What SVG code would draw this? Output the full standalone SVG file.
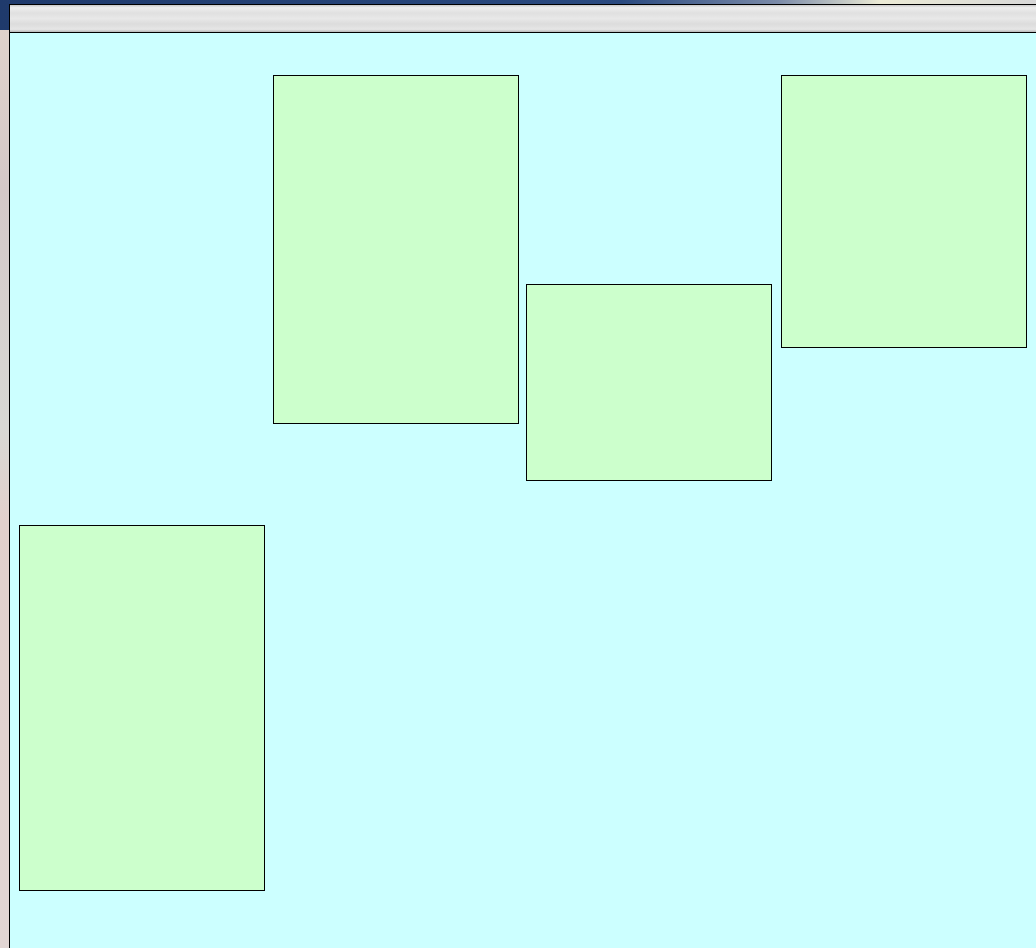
<svg xmlns="http://www.w3.org/2000/svg" width="1036" height="948" viewBox="0 0 1036 948">
<defs>
<linearGradient id="topbg" x1="0" y1="0" x2="1" y2="0">
<stop offset="0" stop-color="#1f3a6c"/>
<stop offset="0.6" stop-color="#2a4a80"/>
<stop offset="0.75" stop-color="#7a8aa8"/>
<stop offset="0.85" stop-color="#ecebd6"/>
<stop offset="1" stop-color="#d8d8d8"/>
</linearGradient>
<linearGradient id="leftbg" x1="0" y1="0" x2="0" y2="1">
<stop offset="0" stop-color="#e2d4cc"/>
<stop offset="0.2" stop-color="#d4c8c8"/>
<stop offset="0.45" stop-color="#d8d8d4"/>
<stop offset="0.55" stop-color="#e2d0cc"/>
<stop offset="1" stop-color="#e2d6d4"/>
</linearGradient>
<linearGradient id="bar" x1="0" y1="0" x2="0" y2="1">
<stop offset="0" stop-color="#c8c8c8"/>
<stop offset="0.1" stop-color="#eeeeee"/>
<stop offset="0.3" stop-color="#e0e0e0"/>
<stop offset="0.5" stop-color="#e8e8e8"/>
<stop offset="0.7" stop-color="#dcdcdc"/>
<stop offset="0.9" stop-color="#e6e6e6"/>
<stop offset="1" stop-color="#b8b8b8"/>
</linearGradient>
</defs>
<style>
.box{fill:#ccffcc;stroke:#000;stroke-width:1}
</style>
<rect x="0" y="0" width="1036" height="948" fill="url(#leftbg)"/>
<rect x="0" y="0" width="1036" height="30" fill="url(#topbg)"/>
<rect x="9.5" y="4.5" width="1030" height="950" fill="#ccffff" stroke="#000" stroke-width="1"/>
<rect x="10" y="5" width="1026" height="27" fill="url(#bar)"/>
<line x1="9" y1="32.5" x2="1036" y2="32.5" stroke="#000" stroke-width="1"/>
<g id="node1"><rect class="box" x="273.5" y="75.5" width="245" height="348"/></g>
<g id="node2"><rect class="box" x="526.5" y="284.5" width="245" height="196"/></g>
<g id="node3"><rect class="box" x="781.5" y="75.5" width="245" height="272"/></g>
<g id="node4"><rect class="box" x="19.5" y="525.5" width="245" height="365"/></g>
<g id="connectors"></g>
</svg>
